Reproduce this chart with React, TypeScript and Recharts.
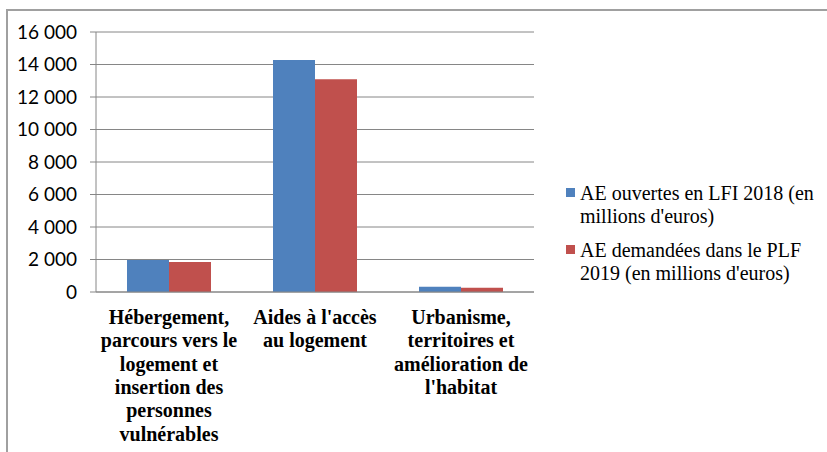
import React from 'react';
import { BarChart, Bar, XAxis, YAxis, CartesianGrid, Legend } from 'recharts';

const categories = [
  "Hébergement, parcours vers le logement et insertion des personnes vulnérables",
  "Aides à l'accès au logement",
  "Urbanisme, territoires et amélioration de l'habitat",
];
const categoryLabelLines = [
  ["Hébergement,", "parcours vers le", "logement et", "insertion des", "personnes", "vulnérables"],
  ["Aides à l'accès", "au logement"],
  ["Urbanisme,", "territoires et", "amélioration de", "l'habitat"],
];
const lfi2018 = [1970, 14270, 330];
const plf2019 = [1850, 13100, 265];
const seriesNames = [
  "AE ouvertes en LFI 2018 (en millions d'euros)",
  "AE demandées dans le PLF 2019 (en millions d'euros)",
];
const seriesColors = ["#4f81bd", "#c0504d"];
const yTicks = [0, 2000, 4000, 6000, 8000, 10000, 12000, 14000, 16000];
const boundaryTicks = [0, 1, 2, 3];

const data = categories.map((c, i) => ({ category: c, lfi: lfi2018[i], plf: plf2019[i] }));

const AXIS = '#868686';
const serif = 'Liberation Serif';

const fmt = (v: number) => String(v).replace(/\B(?=(\d{3})+(?!\d))/g, ' ');

const CatTick = (props: any) => {
  const { x, y, payload } = props;
  const idx = categories.indexOf(payload.value);
  const lines = categoryLabelLines[idx] || [];
  return (
    <g>
      {lines.map((l, i) => (
        <text
          key={i}
          x={x}
          y={y + 24 + i * 23.3}
          textAnchor="middle"
          style={{ fontFamily: serif, fontWeight: 700, fontSize: 20 }}
          fill="#000"
        >
          {l}
        </text>
      ))}
    </g>
  );
};

const renderLegend = (props: any) => {
  const payload = props.payload || [];
  return (
    <div style={{ fontFamily: serif, fontSize: 20, lineHeight: '23px', color: '#000' }}>
      {payload.map((e: any, i: number) => (
        <div key={i} style={{ display: 'flex', alignItems: 'flex-start', marginTop: i ? 11 : 0 }}>
          <span
            style={{ display: 'inline-block', width: 9, height: 9, background: e.color, marginTop: 6, marginRight: 5, flexShrink: 0 }}
          />
          <span style={{ width: 240 }}>{e.value}</span>
        </div>
      ))}
    </div>
  );
};

export default function App() {
  return (
    <div style={{ position: 'absolute', left: 0, top: 0, width: 827, height: 452, background: '#fff', overflow: 'hidden' }}>
      <div
        style={{
          position: 'absolute',
          left: 6,
          top: 9,
          width: 830,
          height: 450,
          borderTop: '2px solid #a0a0a0',
          borderLeft: '2px solid #a0a0a0',
        }}
      />
      <div style={{ position: 'absolute', left: 0, top: 0 }}>
        <BarChart
          width={827}
          height={452}
          data={data}
          margin={{ top: 32, right: 293, bottom: 0, left: 0 }}
          barCategoryGap={31}
          barGap={0}
        >
          <CartesianGrid vertical={false} stroke={AXIS} strokeWidth={1} />
          <XAxis
            xAxisId={0}
            type="number"
            domain={[0, 3]}
            ticks={boundaryTicks}
            allowDataOverflow
            height={0}
            axisLine={false}
            tick={false}
            tickLine={{ stroke: AXIS }}
            tickSize={6}
          />
          <XAxis
            xAxisId={1}
            dataKey="category"
            height={160}
            axisLine={{ stroke: AXIS }}
            tickLine={false}
            tick={<CatTick />}
            interval={0}
          />
          <YAxis
            width={96}
            domain={[0, 16000]}
            ticks={yTicks}
            tickFormatter={fmt}
            axisLine={{ stroke: AXIS }}
            tickLine={{ stroke: AXIS }}
            tickSize={6}
            tickMargin={13}
            tick={{ fill: '#000', fontSize: 19, fontFamily: 'Lato' }}
            interval={0}
          />
          <Legend
            layout="horizontal"
            verticalAlign="middle"
            align="center"
            itemSorter="dataKey"
            content={renderLegend}
            wrapperStyle={{ left: 566, top: 182, width: 260, height: 'auto' }}
          />
          <Bar xAxisId={1} dataKey="lfi" name={seriesNames[0]} fill={seriesColors[0]} isAnimationActive={false} />
          <Bar xAxisId={1} dataKey="plf" name={seriesNames[1]} fill={seriesColors[1]} isAnimationActive={false} />
        </BarChart>
      </div>
    </div>
  );
}
